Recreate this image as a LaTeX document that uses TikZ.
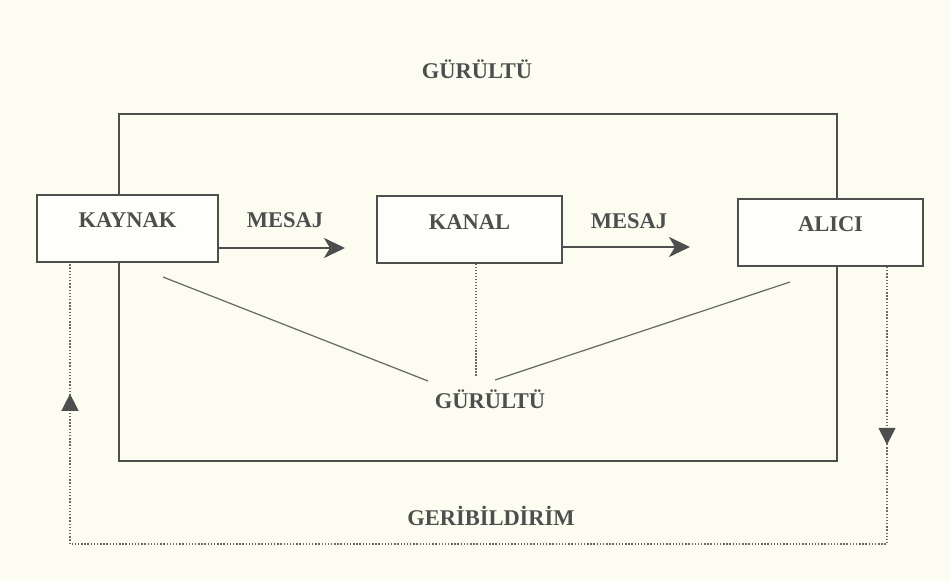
\documentclass[tikz,border=0pt]{standalone}
\usepackage{fontspec}
\setmainfont{Liberation Serif}
\usetikzlibrary{arrows.meta,decorations.markings}
\definecolor{paper}{RGB}{252,252,240}
\definecolor{ink}{RGB}{78,78,78}
\definecolor{boxfill}{RGB}{254,254,251}
\tikzset{
  box/.style={draw=ink, line width=1pt, fill=boxfill, minimum width=3.66cm, minimum height=1.34cm, inner sep=0pt},
  lbl/.style={text=ink, font=\bfseries\fontsize{12.8}{14}\selectfont, inner sep=1pt},
  msg/.style={draw=ink, line width=1.6pt, -{Stealth[length=0.42cm,width=0.4cm,inset=0.12cm]}},
  noise/.style={draw=ink!85, line width=0.7pt},
  fb/.style={draw=ink!85, line width=0.8pt, densely dotted},
  fbtip/.style={decoration={markings,
      mark=at position 3.56cm with {\arrow[ink]{Triangle[length=0.34cm,width=0.34cm]}},
      mark=at position -2.62cm with {\arrow[ink]{Triangle[length=0.34cm,width=0.34cm]}}},
    postaction={decorate}},
}
\begin{document}
\begin{tikzpicture}[x=0.02cm, y=-0.02cm]
\fill[paper] (0,0) rectangle (950,581);
\useasboundingbox (0,0) rectangle (950,581);

% outer frame
\draw[ink, line width=1.1pt] (119,114) rectangle (837,461);
\node[lbl] (gurultuTop) at (477,69) {GÜRÜLTÜ};

% boxes
\node[box, minimum width=3.62cm] (kaynak) at (127.5,228.5) {};
\node[box, minimum width=3.7cm] (kanal) at (469.5,229.5) {};
\node[box, minimum width=3.7cm] (alici) at (830.5,232.5) {};
\node[lbl] (kaynakLbl) at ([yshift=0.17cm]kaynak.center) {KAYNAK};
\node[lbl] (kanalLbl) at ([yshift=0.14cm]kanal.center) {KANAL};
\node[lbl] (aliciLbl) at ([yshift=0.17cm]alici.center) {ALICI};

% messages
\coordinate (m1) at (345,248);
\coordinate (m2) at (690,247);
\draw[msg] (m1 -| kaynak.east) -- (m1);
\draw[msg] (m2 -| kanal.east) -- (m2);
\node[lbl] (mesaj1) at (285,220) {MESAJ};
\node[lbl] (mesaj2) at (629,221) {MESAJ};

% noise
\node[lbl] (gurultu) at (490,399) {GÜRÜLTÜ};
\coordinate (nl) at (163,277);
\coordinate (nlEnd) at (428,381);
\coordinate (nr) at (790,282);
\coordinate (nrEnd) at (495,380);
\coordinate (nm) at (476,376);
\draw[noise] (nl) -- (nlEnd);
\draw[noise] (nr) -- (nrEnd);
\draw[noise, densely dotted, line width=0.9pt] (kanal.south -| nm) -- (nm);

% feedback
\coordinate (fbR) at (887,544);
\coordinate (fbL) at (70,544);
\draw[fb, fbtip] (alici.south -| fbR) -- (fbR) -- (fbL) -- (kaynak.south -| fbL);
\node[lbl] (geri) at (491,516) {GERİBİLDİRİM};
\end{tikzpicture}
\end{document}
